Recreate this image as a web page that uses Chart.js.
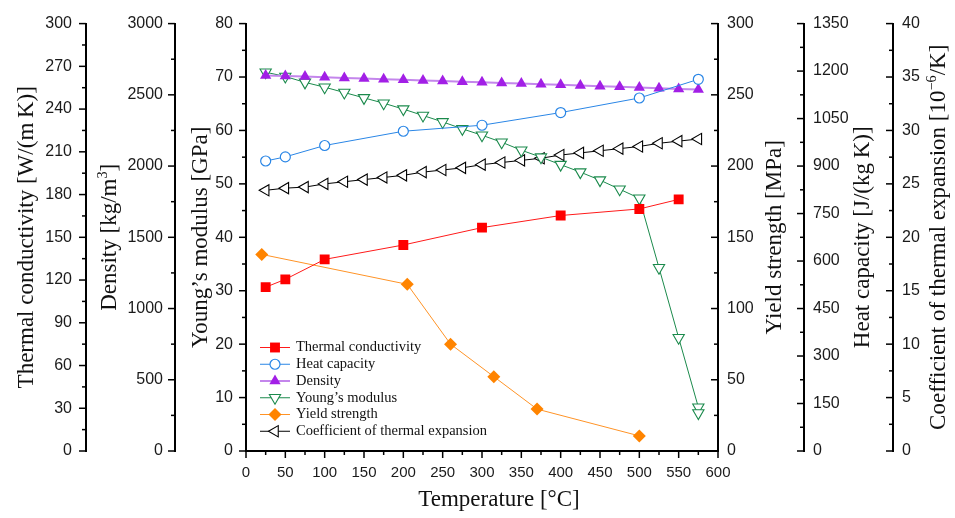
<!DOCTYPE html>
<html><head><meta charset="utf-8">
<script src="https://cdn.jsdelivr.net/npm/chart.js@4.4.0/dist/chart.umd.min.js"></script>
<style>html,body{margin:0;padding:0;background:#fff;}canvas{display:block;}</style>
</head><body>
<canvas id="c" width="955" height="518"></canvas>
<script>
// ---------- data ----------
const fineTemps = [25,50,75,100,125,150,175,200,225,250,275,300,325,350,375,400,425,450,475,500,525,550,575];
const densityValues = [2636,2632,2628,2624,2619,2615,2610,2606,2601,2597,2592,2588,2583,2579,2574,2570,2565,2560,2556,2551,2546,2541,2537];
const cteValues = [24.4,24.6,24.7,25.0,25.2,25.4,25.6,25.8,26.1,26.3,26.5,26.8,27.0,27.2,27.4,27.7,27.9,28.1,28.3,28.5,28.8,29.0,29.2];
const youngTemps = [25,50,75,100,125,150,175,200,225,250,275,300,325,350,375,400,425,450,475,500,525,550,575,575];
const youngValues = [70.9,70.1,69.0,68.1,67.1,66.1,65.1,64.0,62.8,61.6,60.3,59.1,57.8,56.3,55.0,53.6,52.2,50.7,49.0,47.3,34.3,21.2,8.2,7.1];
const conductivityTemps = [25,50,100,200,300,400,500,550];
const conductivityValues = [115.0,120.5,134.5,144.6,156.8,165.3,169.9,176.6];
const heatTemps = [25,50,100,200,300,400,500,575];
const heatValues = [916,929,965,1010,1029,1069,1115,1174];
const yieldTemps = [20,205,260,315,370,500];
const yieldValues = [138,117,75,52.2,29.4,10.6];

// axis ranges: [min, max, major step, minor step]
const tempAxis = [0, 600, 50, 25];
const conductivityAxis = [0, 300, 30, 15];
const densityAxis = [0, 3000, 500, 250];
const youngAxis = [0, 80, 10, 5];
const yieldAxis = [0, 300, 50, 25];
const heatAxis = [0, 1350, 150, 75];
const cteAxis = [0, 40, 5, 2.5];

const seriesNames = ['Thermal conductivity','Heat capacity','Density','Young\u2019s modulus','Yield strength','Coefficient of thermal expansion'];

// ---------- helpers ----------
const pts = (xs, ys) => xs.map((x, i) => ({x: x, y: ys[i]}));
const Y_TICK_FONT = {family: "'Liberation Sans', Arial, sans-serif", size: 16};
const X_TICK_FONT = {family: "'Liberation Sans', Arial, sans-serif", size: 15};
const SERIF = "'Liberation Serif', 'Times New Roman', serif";
const plainLabel = v => String(Math.round(v * 1000) / 1000);

function yScale(range, pos, weight, width, pad) {
  return {
    type: 'linear', position: pos, weight: weight,
    min: range[0], max: range[1],
    ticks: {stepSize: range[2], padding: pad, font: Y_TICK_FONT, color: '#1a1a1a', callback: plainLabel},
    grid: {drawOnChartArea: false, drawTicks: false},
    border: {display: true, color: '#000', width: 2},
    afterFit: s => { s.width = width; },
    _minor: range[3]
  };
}

const chartData = {
  datasets: [
    {label: seriesNames[0], data: pts(conductivityTemps, conductivityValues), yAxisID: 'yTC',
     borderColor: '#ff1a1a', borderWidth: 1, pointStyle: 'rect', pointRadius: 7, pointBorderWidth: 0,
     pointBackgroundColor: '#ff0000', pointBorderColor: '#ff0000'},
    {label: seriesNames[1], data: pts(heatTemps, heatValues), yAxisID: 'yHC',
     borderColor: '#2a86e6', borderWidth: 1, pointStyle: 'circle', pointRadius: 5, pointBorderWidth: 1.2,
     pointBackgroundColor: '#ffffff', pointBorderColor: '#2a86e6'},
    {label: seriesNames[2], data: pts(fineTemps, densityValues), yAxisID: 'yDen',
     borderColor: '#c486ec', borderWidth: 2, pointStyle: 'triangle', pointRadius: 6.5, pointBorderWidth: 0,
     pointBackgroundColor: '#a21fe6', pointBorderColor: '#a21fe6'},
    {label: seriesNames[3], data: pts(youngTemps, youngValues), yAxisID: 'yYM',
     borderColor: '#1b8a4c', borderWidth: 1, pointStyle: 'triangle', pointRotation: 180, pointRadius: 6.5, pointBorderWidth: 1.1,
     pointBackgroundColor: '#ffffff', pointBorderColor: '#1b8a4c'},
    {label: seriesNames[4], data: pts(yieldTemps, yieldValues), yAxisID: 'yYS',
     borderColor: '#ff9326', borderWidth: 1, pointStyle: 'rectRot', pointRadius: 6.5, pointBorderWidth: 0,
     pointBackgroundColor: '#ff8400', pointBorderColor: '#ff8400'},
    {label: seriesNames[5], data: pts(fineTemps, cteValues), yAxisID: 'yCTE',
     borderColor: '#000000', borderWidth: 1, pointStyle: 'triangle', pointRotation: -90, pointRadius: 6.5, pointBorderWidth: 1.1,
     pointBackgroundColor: '#ffffff', pointBorderColor: '#000000'}
  ]
};
chartData.datasets.forEach(d => { d.xAxisID = 'x'; d.tension = 0; d.fill = false; });

const axisTitles = {
  yTC: {x: 27, segs: [{t: 'Thermal conductivity [W/(m\u2009K)]'}]},
  yDen: {x: 110, segs: [{t: 'Density [kg/m'}, {t: '3', sup: true}, {t: ']'}]},
  yYM: {x: 201, segs: [{t: 'Young\u2019s modulus [GPa]'}]},
  yYS: {x: 775, segs: [{t: 'Yield strength [MPa]'}]},
  yHC: {x: 863, segs: [{t: 'Heat capacity [J/(kg\u2009K)]'}]},
  yCTE: {x: 939, segs: [{t: 'Coefficient of thermal expansion [10'}, {t: '\u22126', sup: true}, {t: '/K]'}]}
};

function drawRich(ctx, segs, size, cx, cy, rot) {
  ctx.save();
  ctx.translate(cx, cy);
  if (rot) ctx.rotate(rot);
  ctx.fillStyle = '#111';
  ctx.textBaseline = 'middle';
  ctx.textAlign = 'left';
  let total = 0;
  segs.forEach(s => { ctx.font = (s.sup ? size * 0.62 : size) + 'px ' + SERIF; s.w = ctx.measureText(s.t).width; total += s.w; });
  let x = -total / 2;
  segs.forEach(s => {
    ctx.font = (s.sup ? size * 0.62 : size) + 'px ' + SERIF;
    ctx.fillText(s.t, x, s.sup ? -size * 0.3 : 0);
    x += s.w;
  });
  ctx.restore();
}

const decorPlugin = {
  id: 'decor',
  afterDraw(chart) {
    const ctx = chart.ctx;
    const area = chart.chartArea;
    // minor + major ticks
    ctx.save();
    ctx.strokeStyle = '#000';
    ctx.lineWidth = 1.5;
    Object.values(chart.scales).forEach(sc => {
      const o = sc.options;
      const minor = o._minor;
      const major = o.ticks.stepSize;
      for (let v = o.min; v <= o.max + 1e-9; v += minor) {
        const isMajor = Math.abs(v / major - Math.round(v / major)) < 1e-6;
        const len = isMajor ? 7 : 4;
        const p = sc.getPixelForValue(v);
        ctx.beginPath();
        if (sc.isHorizontal()) {
          ctx.moveTo(p, sc.top); ctx.lineTo(p, sc.top + len);
        } else {
          const ax = sc.position === 'left' ? sc.right : sc.left;
          ctx.moveTo(ax, p); ctx.lineTo(ax - len, p);
        }
        ctx.stroke();
      }
    });
    ctx.restore();
    // axis titles
    const midY = (area.top + area.bottom) / 2;
    Object.keys(axisTitles).forEach(k => {
      const t = axisTitles[k];
      drawRich(ctx, t.segs, 23, t.x, midY, -Math.PI / 2);
    });
    drawRich(ctx, [{t: 'Temperature [\u00B0C]'}], 23, 499, 500, 0);
    // legend
    const lx0 = 260, lx1 = 290, tx = 296, ly0 = 347.5, dy = 16.75;
    chart.data.datasets.forEach((d, i) => {
      const y = ly0 + i * dy;
      ctx.save();
      ctx.strokeStyle = d.borderColor;
      ctx.lineWidth = d.borderWidth;
      ctx.beginPath(); ctx.moveTo(lx0, y); ctx.lineTo(lx1, y); ctx.stroke();
      ctx.fillStyle = d.pointBackgroundColor;
      ctx.strokeStyle = d.pointBorderColor;
      ctx.lineWidth = d.pointBorderWidth;
      Chart.helpers.drawPoint(ctx, {pointStyle: d.pointStyle, radius: d.pointRadius, rotation: d.pointRotation || 0, borderWidth: d.pointBorderWidth}, (lx0 + lx1) / 2, y);
      ctx.fillStyle = '#111';
      ctx.font = '14.5px ' + SERIF;
      ctx.textBaseline = 'middle';
      ctx.textAlign = 'left';
      ctx.fillText(d.label, tx, y);
      ctx.restore();
    });
  }
};

new Chart(document.getElementById('c'), {
  type: 'line',
  data: chartData,
  options: {
    responsive: false,
    animation: false,
    layout: {padding: {left: 0, right: 0, top: 16, bottom: 0}},
    plugins: {legend: {display: false}, tooltip: {enabled: false}},
    scales: {
      x: {
        type: 'linear', position: 'bottom', min: tempAxis[0], max: tempAxis[1],
        ticks: {stepSize: tempAxis[2], padding: 13, font: X_TICK_FONT, color: '#1a1a1a', maxRotation: 0, callback: plainLabel},
        grid: {drawOnChartArea: false, drawTicks: false},
        border: {display: true, color: '#000', width: 2},
        afterFit: s => { s.height = 67; },
        _minor: tempAxis[3]
      },
      yTC: yScale(conductivityAxis, 'left', 3, 86, 14),
      yDen: yScale(densityAxis, 'left', 2, 89, 12),
      yYM: yScale(youngAxis, 'left', 1, 71, 13),
      yYS: yScale(yieldAxis, 'right', 1, 86, 9),
      yHC: yScale(heatAxis, 'right', 2, 89, 9),
      yCTE: yScale(cteAxis, 'right', 3, 62, 9)
    }
  },
  plugins: [decorPlugin]
});
</script>
</body></html>
